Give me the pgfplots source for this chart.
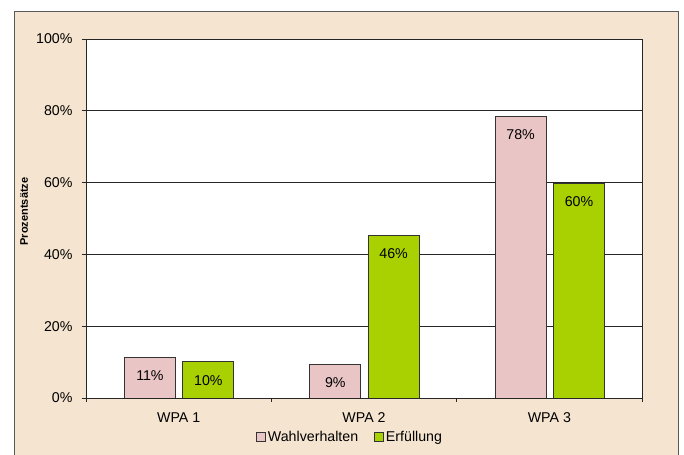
\documentclass[border=0pt]{standalone}
\usepackage{fontspec}
\setmainfont{Liberation Sans}
\usepackage{pgfplots}
\pgfplotsset{compat=1.18}
\definecolor{bg}{HTML}{F5E4CF}
\definecolor{pinkb}{HTML}{EAC5C5}
\definecolor{greenb}{HTML}{A9D000}
\newcommand\f{\fontsize{14.2bp}{16bp}\selectfont}
\begin{document}
\begin{tikzpicture}
\path[use as bounding box] (0bp,0bp) rectangle (684bp,455bp);
\fill[white] (0bp,0bp) rectangle (684bp,455bp);
\draw[fill=bg, draw=black!65, line width=1bp] (14bp,-10bp) rectangle (678bp,443bp);
\node[rotate=90, font=\fontsize{11bp}{12bp}\selectfont\bfseries] at (24bp,243.5bp) {Prozentsätze};
\begin{axis}[
  at={(86bp,57bp)}, anchor=south west, scale only axis,
  width=556bp, height=359bp,
  axis background/.style={fill=white},
  ymin=0, ymax=100, xmin=-0.5, xmax=2.5,
  ytick={0,20,...,100},
  yticklabel={\pgfmathprintnumber{\tick}\%},
  /pgf/number format/assume math mode=true,
  ymajorgrids, grid style={black!85, line width=0.8bp},
  axis line style={black!85, line width=0.8bp},
  tick align=outside, major tick length=4bp, minor tick length=4bp,
  xtick pos=bottom, ytick pos=left,
  tick style={black!85, line width=0.8bp},
  xtick={0,1,2}, xticklabels={WPA 1, WPA 2, WPA 3},
  major x tick style={draw=none},
  minor xtick={-0.5,0.5,1.5,2.5},
  ticklabel style={font=\f},
  yticklabel style={xshift=-6bp},
  xticklabel style={anchor=center, yshift=-16bp},
  ybar, bar width=0.275,
  point meta=explicit symbolic,
  nodes near coords,
  every node near coord/.append style={anchor=center, yshift=-18.5bp, font=\f},
  legend style={at={(0.475,-0.109)}, anchor=center, draw=none, fill=none,
    legend columns=2, font=\f,
    /tikz/every even column/.append style={column sep=14bp},
    legend cell align=left},
  legend image code/.code={\draw[#1, line width=0.8bp] (0bp,-4.5bp) rectangle (9bp,4.5bp);},
]
\addplot[fill=pinkb, draw=black!80, line width=0.8bp, bar shift=-0.155]
  coordinates {(0,11.4) [11\%] (1,9.3) [9\%] (2,78.4) [78\%]};
\addplot[fill=greenb, draw=black!80, line width=0.8bp, bar shift=0.16]
  coordinates {(0,10.1) [10\%] (1,45.3) [46\%] (2,59.8) [60\%]};
\legend{Wahlverhalten, Erfüllung}
\end{axis}
\end{tikzpicture}
\end{document}
